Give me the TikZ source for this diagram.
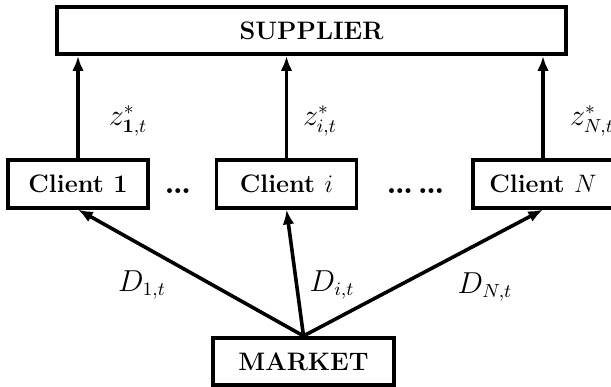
\documentclass[tikz,border=0pt]{standalone}
\usetikzlibrary{arrows.meta}

\newcommand{\zopt}[1]{z^{*}_{#1,t}}

\begin{document}
\begin{tikzpicture}[x=0.475pt, y=-0.475pt, line width=1.8pt,
  box/.style={draw, font=\large\bfseries, minimum height=22.5pt, inner sep=0pt},
  flow/.style={-{Latex[length=7pt,width=5.5pt]}, line width=1.7pt},
  lbl/.style={font=\fontsize{13.5}{16}\selectfont, inner sep=1pt},
  gap/.style={font=\fontsize{16}{18}\selectfont\bfseries, inner sep=0pt}]
  \useasboundingbox (0,0) rectangle (611,386);
  \node[box, minimum width=241.8pt] (sup) at (311.5,30.5) {SUPPLIER};
  \node[box, minimum width=86pt] (mkt) at (303.5,361.5) {MARKET};
  \foreach \n/\x/\t in {1/78/1, i/286.5/$i$, N/543/$N$}
    \node[box, minimum width=66.5pt] (c\n) at (\x,184) {Client \t};
  \node[gap] (dots1) at (178,191) {\ldots};
  \node[gap] (dots2) at (415.5,191) {\ldots\hspace{2pt}\ldots};
  \foreach \n in {1,i,N} {
    \draw[flow] (c\n.north) -- (c\n.north |- sup.south);
    \draw[flow] (mkt.north) -- (c\n.south);
  }
  \node[lbl] (z1) at (128,121) {$\zopt{\mathbf{1}}$};
  \node[lbl] (zi) at (320,121) {$\zopt{i}$};
  \node[lbl] (zN) at (592,121) {$\zopt{N}$};
  \node[lbl] (D1) at (142,285) {$D_{1,t}$};
  \node[lbl] (Di) at (332,285) {$D_{i,t}$};
  \node[lbl] (DN) at (485,287) {$D_{N,t}$};
\end{tikzpicture}
\end{document}
